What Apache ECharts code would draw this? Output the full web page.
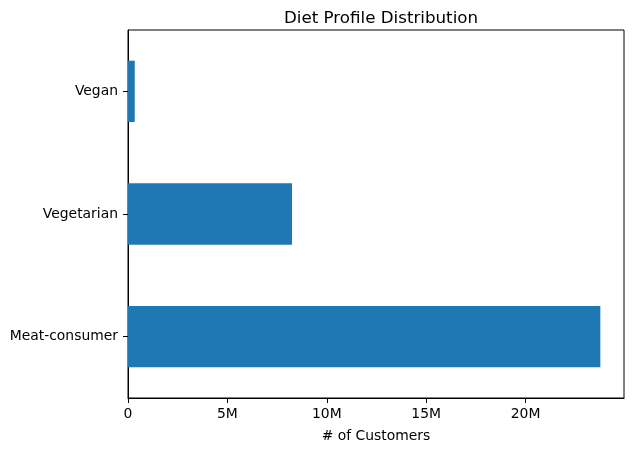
<!DOCTYPE html>
<html>
<head>
<meta charset="utf-8">
<script src="https://cdn.jsdelivr.net/npm/echarts@6/dist/echarts.min.js"></script>
<style>
  html, body { margin: 0; padding: 0; background: #fff; }
  #chart { width: 633px; height: 453px; }
</style>
</head>
<body>
<div id="chart"></div>
<script>
// categories from bottom to top
var categories = ["Meat-consumer", "Vegetarian", "Vegan"];
var customers = [23760000, 8250000, 340000];
var tickValues = [0, 5000000, 10000000, 15000000, 20000000];

var chart = echarts.init(document.getElementById("chart"));
var font = "DejaVu Sans";

var option = {
  animation: false,
  title: {
    text: "Diet Profile Distribution",
    left: 376,
    textAlign: "center",
    top: 5,
    textStyle: { fontFamily: font, fontSize: 16.7, fontWeight: "normal", color: "#000" }
  },
  grid: {
    left: 128, right: 9, top: 30, bottom: 55,
    show: true, borderColor: "#000", borderWidth: 1, backgroundColor: "transparent"
  },
  xAxis: {
    type: "value",
    min: 0,
    max: 24950000,
    interval: 5000000,
    name: "# of Customers",
    nameLocation: "middle",
    nameGap: 31,
    nameTextStyle: { fontFamily: font, fontSize: 13.9, color: "#000" },
    splitLine: { show: false },
    axisLine: { show: true, lineStyle: { color: "#000" } },
    axisTick: { show: true, length: 5, lineStyle: { color: "#000" }, customValues: tickValues },
    axisLabel: {
      fontFamily: font, fontSize: 13.9, color: "#000", margin: 9,
      customValues: tickValues,
      formatter: function (v) { return v === 0 ? "0" : (v / 1e6) + "M"; }
    }
  },
  yAxis: {
    type: "category",
    data: categories,
    axisLine: { show: true, lineStyle: { color: "#000" } },
    axisTick: { show: true, alignWithLabel: true, length: 5, lineStyle: { color: "#000" } },
    axisLabel: { fontFamily: font, fontSize: 13.9, color: "#000", margin: 10, padding: [0, 0, 0, 0], verticalAlign: "middle", lineHeight: 14, height: 14 }
  },
  series: [{
    type: "bar",
    data: customers,
    barWidth: "50%",
    itemStyle: { color: "#1f77b4" }
  }]
};
chart.setOption(option);
</script>
</body>
</html>
